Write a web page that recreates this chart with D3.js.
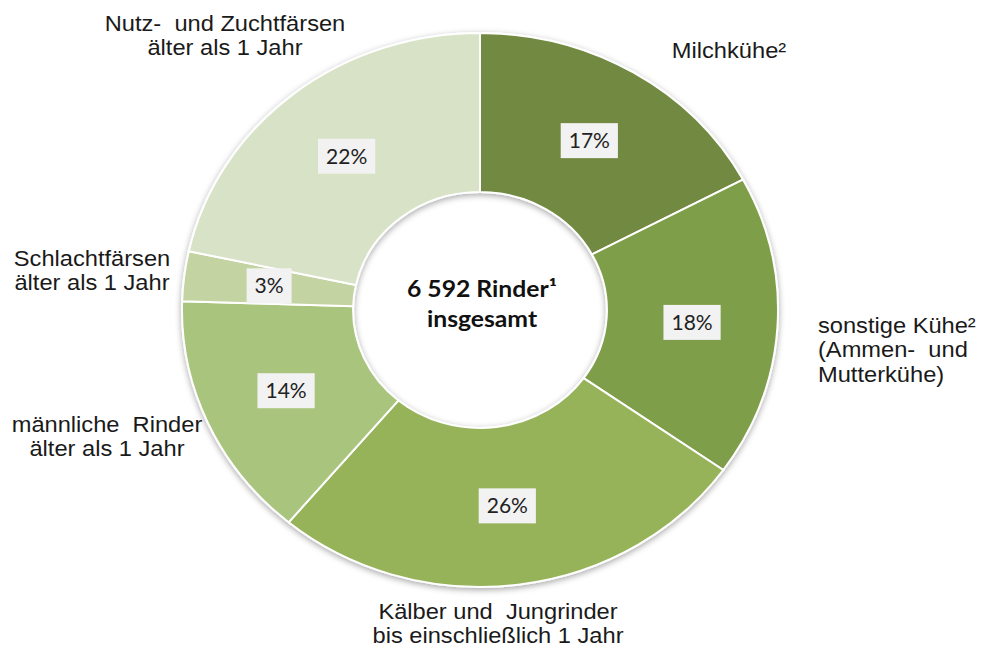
<!DOCTYPE html>
<html>
<head>
<meta charset="utf-8">
<script src="https://cdn.jsdelivr.net/npm/d3@7"></script>
<style>
  body { margin: 0; background: #fff; }
  svg { display: block; }
</style>
</head>
<body>
<div id="chart"></div>
<script>
// data (shares in percent)
const categories = ["Milchkühe²", "sonstige Kühe²", "Kälber und Jungrinder", "männliche Rinder", "Schlachtfärsen", "Nutz- und Zuchtfärsen"];
const shares = [17.2, 17.6, 26.3, 14.4, 2.9, 21.6];
const colors = ["#71893f", "#7f9e49", "#97b35a", "#a9c47b", "#c3d4a2", "#d7e2c6"];
const labelLines = [
    ["Milchkühe²"],
    ["sonstige Kühe²", "(Ammen-  und", "Mutterkühe)"],
    ["Kälber und  Jungrinder", "bis einschließlich 1 Jahr"],
    ["männliche  Rinder", "älter als 1 Jahr"],
    ["Schlachtfärsen", "älter als 1 Jahr"],
    ["Nutz-  und Zuchtfärsen", "älter als 1 Jahr"]
];
const centerLines = ["6 592 Rinder¹", "insgesamt"];

const width = 989, height = 656;
const cx = 480, cy = 310,
    outerRadius = 277, innerRadius = 118,
    sx = 298 / 277;   // the whole picture is a bit stretched sideways

// where the outside labels sit and how they are aligned
const labelPos = [
    { x: 729, y: 58, anchor: "middle" },
    { x: 818, y: 333, anchor: "start" },
    { x: 498, y: 619, anchor: "middle" },
    { x: 107, y: 432, anchor: "middle" },
    { x: 92, y: 266, anchor: "middle" },
    { x: 225, y: 31, anchor: "middle" }
];

const svg = d3.select("#chart")
    .append("svg")
    .attr("width", width)
    .attr("height", height);

const defs = svg.append("defs");
defs.append("filter")
    .attr("id", "shadow")
    .attr("x", "-10%").attr("y", "-10%")
    .attr("width", "120%").attr("height", "120%")
    .append("feDropShadow")
    .attr("dx", 0).attr("dy", 2)
    .attr("stdDeviation", 3)
    .attr("flood-color", "#000")
    .attr("flood-opacity", 0.35);

const data = categories.map((c, i) => ({ name: c, value: shares[i] }));

const pie = d3.pie()
    .sort(null)
    .value(d => d.value);

const arcs = pie(data);

const arc = d3.arc()
    .innerRadius(innerRadius)
    .outerRadius(outerRadius);

// ring
svg.append("g")
    .attr("transform", `translate(${cx}, ${cy}) scale(${sx}, 1)`)
    .attr("filter", "url(#shadow)")
    .selectAll("path")
    .data(arcs)
    .join("path")
    .attr("d", arc)
    .attr("fill", (d, i) => colors[i])
    .attr("stroke", "#fff")
    .attr("stroke-width", 2)
    .attr("vector-effect", "non-scaling-stroke");

// percentage labels in grey boxes
const pct = svg.append("g")
    .attr("transform", `translate(${cx}, ${cy})`)
    .selectAll("g")
    .data(arcs)
    .join("g")
    .attr("transform", d => {
        const c = arc.centroid(d);
        return `translate(${c[0] * sx}, ${c[1]})`;
    });

pct.append("text")
    .text(d => Math.round(d.value) + "%")
    .attr("text-anchor", "middle")
    .attr("dy", "0.36em")
    .style("font-family", "Lato, 'Open Sans', sans-serif")
    .style("font-size", "21px")
    .attr("fill", "#222");

pct.insert("rect", "text")
    .each(function () {
        const bb = this.parentNode.querySelector("text").getBBox();
        d3.select(this)
            .attr("x", bb.x - 8)
            .attr("y", -17.5)
            .attr("width", bb.width + 16)
            .attr("height", 35);
    })
    .attr("fill", "#f2f2f2");

// category labels
const labels = svg.append("g")
    .selectAll("g")
    .data(labelLines)
    .join("g")
    .attr("transform", (d, i) => `translate(${labelPos[i].x}, ${labelPos[i].y}) scale(${sx}, 1)`)
    .append("text")
    .attr("text-anchor", (d, i) => labelPos[i].anchor)
    .style("font-family", "Arial, 'Liberation Sans', sans-serif")
    .style("font-size", "22px")
    .style("white-space", "pre")
    .attr("fill", "#1a1a1a");

labels.selectAll("tspan")
    .data(d => d)
    .join("tspan")
    .attr("x", 0)
    .attr("dy", (d, j) => j === 0 ? 0 : 24.5)
    .text(d => d);

// centre text
svg.append("g")
    .attr("transform", `translate(${cx + 2}, 0) scale(${sx}, 1)`)
    .append("text")
    .attr("text-anchor", "middle")
    .style("font-family", "Lato, 'Open Sans', sans-serif")
    .style("font-weight", "bold")
    .style("font-size", "23px")
    .attr("fill", "#111")
    .selectAll("tspan")
    .data(centerLines)
    .join("tspan")
    .attr("x", 0)
    .attr("y", (d, i) => 297 + i * 30)
    .text(d => d);
</script>
</body>
</html>
